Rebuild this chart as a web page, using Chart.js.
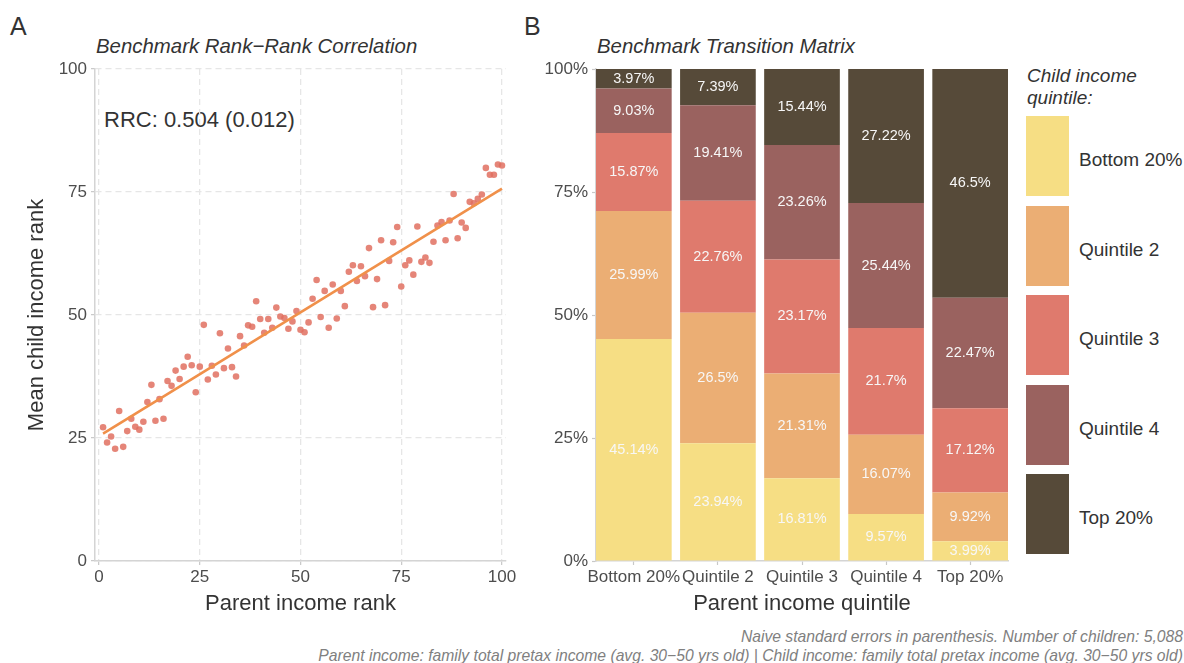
<!DOCTYPE html>
<html lang="en">
<head>
<meta charset="UTF-8">
<title>Benchmark mobility</title>
<script src="https://cdn.jsdelivr.net/npm/chart.js"></script>
<style>
  body { margin: 0; width: 1184px; height: 663px; position: relative; overflow: hidden; background: #fff;
         font-family: "Liberation Sans", Arial, sans-serif; color: #333; }
  .abs { position: absolute; white-space: nowrap; }
  .title { font-style: italic; font-size: 20.4px; color: #333; }
  .letter { font-size: 25px; color: #333; }
  .foot { font-style: italic; font-size: 15.7px; color: #808080; right: 1px; line-height: 18px; }
  #legend .sw { position: absolute; left: 1026px; width: 43px; height: 80px; }
  #legend .lb { position: absolute; left: 1079px; font-size: 19px; color: #333; line-height: 22px; }
  canvas { position: absolute; top: 0; }
</style>
</head>
<body>
<div class="abs letter" style="left:10px; top:12px;">A</div>
<div class="abs letter" style="left:524px; top:12px;">B</div>
<div class="abs title" style="left:96px; top:35px;">Benchmark Rank−Rank Correlation</div>
<div class="abs title" style="left:597px; top:35px;">Benchmark Transition Matrix</div>
<div class="abs" style="left:104px; top:107px; font-size:22px; color:#333;">RRC: 0.504 (0.012)</div>

<canvas id="rankChart" width="520" height="620" style="left:0;"></canvas>
<canvas id="matrixChart" width="490" height="620" style="left:530px;"></canvas>

<div id="legend">
  <div class="abs" style="left:1027px; top:65px; font-size:19px; font-style:italic; line-height:22px; color:#333;">Child income<br>quintile:</div>
</div>

<div class="abs foot" style="top:628px;">Naive standard errors in parenthesis. Number of children: 5,088</div>
<div class="abs foot" style="top:647px;">Parent income: family total pretax income (avg. 30−50 yrs old) | Child income: family total pretax income (avg. 30−50 yrs old)</div>

<script>
// panel A: mean child rank by parent percentile
const parentRank = [1,2,3,4,5,6,7,8,9,10,11,12,13,14,15,16,17,18,19,20,
  21,22,23,24,25,26,27,28,29,30,31,32,33,34,35,36,37,38,39,40,
  41,42,43,44,45,46,47,48,49,50,51,52,53,54,55,56,57,58,59,60,
  61,62,63,64,65,66,67,68,69,70,71,72,73,74,75,76,77,78,79,80,
  81,82,83,84,85,86,87,88,89,90,91,92,93,94,95,96,97,98,99,100];
const childRank = [27.2,24.1,25.3,22.8,30.5,23.2,26.4,28.9,27.3,26.7,
  28.3,32.3,35.8,28.5,32.9,28.9,36.6,35.6,38.7,37.0,
  39.5,41.5,39.8,34.3,39.5,48.0,36.9,39.7,37.9,46.3,
  39.2,43.2,39.4,37.5,45.7,43.8,47.9,47.6,52.8,49.2,
  46.4,49.2,47.4,51.5,49.7,49.4,47.2,48.7,50.8,47.0,
  46.5,48.5,53.3,57.1,49.6,54.9,47.4,56.2,49.3,54.9,
  51.8,58.8,60.1,56.9,59.9,57.9,63.6,51.6,57.3,65.2,
  52.0,61.0,64.8,67.9,55.8,60.1,61.1,58.2,68.0,60.8,
  61.7,60.6,64.9,68.2,68.9,65.2,69.2,74.6,65.6,68.8,
  67.7,73.0,72.7,73.6,74.5,79.9,78.5,78.5,80.6,80.4];
const fitX = [1, 100];
const fitY = [25.9, 75.7];
const rankTicks = [0, 25, 50, 75, 100];

// panel B: share of children in each quintile, by parent quintile
const parentQuintiles = ['Bottom 20%', 'Quintile 2', 'Quintile 3', 'Quintile 4', 'Top 20%'];
const childQuintiles = ['Bottom 20%', 'Quintile 2', 'Quintile 3', 'Quintile 4', 'Top 20%'];
const childBottom = [45.14, 23.94, 16.81, 9.57, 3.99];
const childQ2 = [25.99, 26.5, 21.31, 16.07, 9.92];
const childQ3 = [15.87, 22.76, 23.17, 21.7, 17.12];
const childQ4 = [9.03, 19.41, 23.26, 25.44, 22.47];
const childTop = [3.97, 7.39, 15.44, 27.22, 46.5];
const pctTicks = [0, 25, 50, 75, 100];

const quintileColors = ['#f6de84', '#ebae74', '#df7a6d', '#9a625f', '#564a39'];
const tickFont = { family: '"Liberation Sans", Arial, sans-serif', size: 17 };
const axisTitleFont = { family: '"Liberation Sans", Arial, sans-serif', size: 22 };

function fixSize(w, h) {
  return function (s) {
    if (w !== null) s.width = w;
    if (h !== null) s.height = h;
    s.paddingTop = 0; s.paddingBottom = 0; s.paddingLeft = 0; s.paddingRight = 0;
  };
}

new Chart(document.getElementById('rankChart'), {
  data: {
    datasets: [{
      type: 'scatter',
      data: parentRank.map((x, i) => ({ x: x, y: childRank[i] })),
      backgroundColor: 'rgba(224, 112, 96, 0.85)',
      borderWidth: 0,
      pointRadius: 3.3,
      order: 2
    }, {
      type: 'line',
      data: fitX.map((x, i) => ({ x: x, y: fitY[i] })),
      borderColor: '#f0904a',
      borderWidth: 2.6,
      pointRadius: 0,
      order: 1
    }]
  },
  options: {
    responsive: false,
    animation: false,
    events: [],
    layout: { padding: { left: 20, right: 14, top: 69, bottom: 0 } },
    plugins: { legend: { display: false }, tooltip: { enabled: false } },
    scales: {
      x: {
        type: 'linear', min: -1, max: 101,
        afterFit: fixSize(null, 59),
        afterBuildTicks: s => { s.ticks = rankTicks.map(v => ({ value: v })); },
        ticks: { color: '#4d4d4d', font: tickFont, padding: 2, maxRotation: 0 },
        grid: { color: '#e6e6e6', lineWidth: 1.3, tickLength: 4, tickColor: '#c8c8c8', tickWidth: 1.2 },
        border: { color: '#d4d4d4', width: 1.5, dash: [6, 4] },
        title: { display: true, text: 'Parent income rank', color: '#333', font: axisTitleFont, padding: { top: 0, bottom: 3 } }
      },
      y: {
        type: 'linear', min: 0, max: 100,
        afterFit: fixSize(75, null),
        afterBuildTicks: s => { s.ticks = rankTicks.map(v => ({ value: v })); },
        ticks: { color: '#4d4d4d', font: tickFont, padding: 4 },
        grid: { color: '#e6e6e6', lineWidth: 1.3, tickLength: 4, tickColor: '#c8c8c8', tickWidth: 1.2 },
        border: { color: '#d4d4d4', width: 1.5, dash: [6, 4] },
        title: { display: true, text: 'Mean child income rank', color: '#333', font: axisTitleFont, padding: { top: 4, bottom: 0 } }
      }
    }
  }
});

// white percentage labels in the middle of each segment
const segmentLabels = {
  id: 'segmentLabels',
  afterDatasetsDraw(chart) {
    const ctx = chart.ctx;
    ctx.save();
    ctx.fillStyle = '#f7f7f7';
    ctx.font = '14.5px "Liberation Sans", Arial, sans-serif';
    ctx.textAlign = 'center';
    ctx.textBaseline = 'middle';
    chart.data.datasets.forEach((ds, di) => {
      chart.getDatasetMeta(di).data.forEach((bar, i) => {
        ctx.fillText(ds.data[i].y + '%', bar.x, (bar.y + bar.base) / 2);
      });
    });
    ctx.restore();
  }
};

const childShares = [childBottom, childQ2, childQ3, childQ4, childTop];

new Chart(document.getElementById('matrixChart'), {
  type: 'bar',
  data: {
    datasets: childShares.map((vals, k) => ({
      label: childQuintiles[k],
      data: vals.map((v, i) => ({ x: i + 1, y: v })),
      backgroundColor: quintileColors[k],
      borderWidth: 0,
      barPercentage: 0.9,
      categoryPercentage: 1
    }))
  },
  options: {
    responsive: false,
    animation: false,
    events: [],
    layout: { padding: { left: 0, right: 12, top: 69, bottom: 0 } },
    plugins: { legend: { display: false }, tooltip: { enabled: false } },
    scales: {
      x: {
        type: 'linear', stacked: true, min: 0.55, max: 5.45, offset: false,
        afterFit: fixSize(null, 59),
        afterBuildTicks: s => { s.ticks = parentQuintiles.map((c, i) => ({ value: i + 1 })); },
        ticks: { color: '#4d4d4d', font: tickFont, padding: 2, maxRotation: 0, autoSkip: false,
                 callback: v => parentQuintiles[v - 1] },
        grid: { offset: false, drawOnChartArea: false, tickLength: 4, tickColor: '#c8c8c8', tickWidth: 1.2 },
        border: { color: '#d4d4d4', width: 1.5 },
        title: { display: true, text: 'Parent income quintile', color: '#333', font: axisTitleFont, padding: { top: 0, bottom: 3 } }
      },
      y: {
        type: 'linear', stacked: true, min: 0, max: 100,
        afterFit: fixSize(66, null),
        afterBuildTicks: s => { s.ticks = pctTicks.map(v => ({ value: v })); },
        ticks: { color: '#4d4d4d', font: tickFont, padding: 4, callback: v => v + '%' },
        grid: { drawOnChartArea: false, tickLength: 4, tickColor: '#c8c8c8', tickWidth: 1.2 },
        border: { color: '#d4d4d4', width: 1.5 }
      }
    }
  },
  plugins: [segmentLabels]
});

// legend on the right
const legend = document.getElementById('legend');
childQuintiles.forEach((name, k) => {
  const top = 116 + k * 89.5;
  const sw = document.createElement('div');
  sw.className = 'sw';
  sw.style.top = top + 'px';
  sw.style.background = quintileColors[k];
  legend.appendChild(sw);
  const lb = document.createElement('div');
  lb.className = 'lb';
  lb.style.top = (top + 33) + 'px';
  lb.textContent = name;
  legend.appendChild(lb);
});
</script>
</body>
</html>
